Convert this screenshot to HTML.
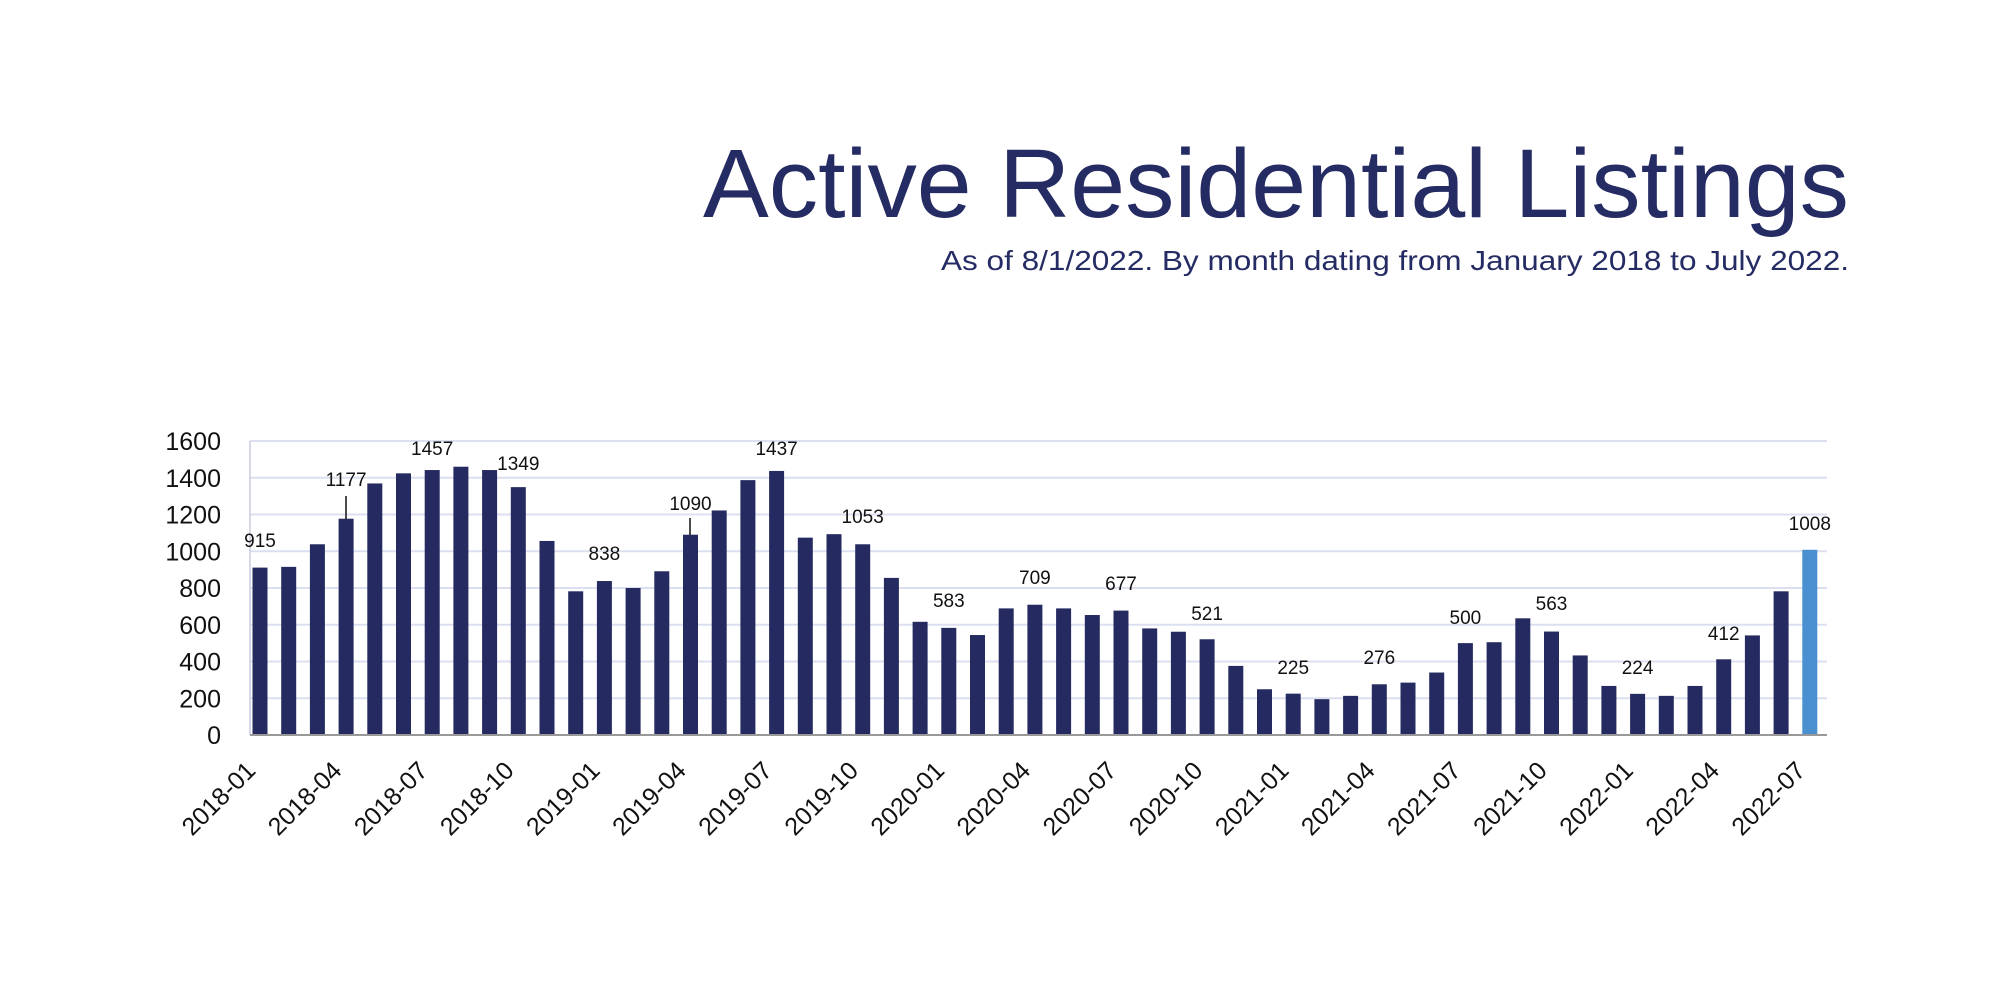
<!DOCTYPE html>
<html><head><meta charset="utf-8"><style>
html,body{margin:0;padding:0;background:#fff;}
svg{display:block;}
text{font-family:"Liberation Sans",sans-serif;}
</style></head><body>
<svg width="2000" height="1000" viewBox="0 0 2000 1000" xmlns="http://www.w3.org/2000/svg">
<rect width="2000" height="1000" fill="#fff"/>
<text x="703" y="217" font-size="97" fill="#252b63" textLength="1146" lengthAdjust="spacingAndGlyphs">Active Residential Listings</text>
<text x="941" y="270" font-size="28" fill="#252b63" textLength="908" lengthAdjust="spacingAndGlyphs">As of 8/1/2022. By month dating from January 2018 to July 2022.</text>
<g id="chart"></g>
</svg>
<script>
const vals=[911,915,1038,1177,1369,1424,1442,1460,1442,1349,1056,782,838,800,891,1090,1222,1387,1437,1074,1093,1038,855,616,583,544,689,709,689,653,677,580,562,521,376,249,225,195,213,276,285,340,500,505,635,563,433,267,224,213,267,412,542,782,1008];
const labels={0:915,3:1177,6:1457,9:1349,12:838,15:1090,18:1437,21:1053,24:583,27:709,30:677,33:521,36:225,39:276,42:500,45:563,48:224,51:412,54:1008};
const labY={0:540,3:479,6:448,9:463,12:553,15:503,18:448,21:516,24:600,27:577,30:583,33:613,36:667,39:657,42:617,45:603,48:667,51:633,54:523};
const ns="http://www.w3.org/2000/svg";const g=document.getElementById("chart");
function el(t,a,txt){const e=document.createElementNS(ns,t);for(const k in a)e.setAttribute(k,a[k]);if(txt!==undefined)e.textContent=txt;g.appendChild(e);return e;}
const base=735,sc=294/1600;
for(let v=0;v<=1600;v+=200){const y=base-v*sc;
 if(v>0)el("line",{x1:250,x2:1827,y1:y,y2:y,stroke:"#dcdff0","stroke-width":2});
 el("text",{x:221,y:y+9,"font-size":25,"text-anchor":"end",fill:"#111"},v);}
el("line",{x1:250,x2:250,y1:441,y2:735,stroke:"#c8cbe0","stroke-width":1.5});
for(let i=0;i<vals.length;i++){const cx=260+i*28.7;const h=vals[i]*sc;
 el("rect",{x:cx-7.5,y:base-h,width:15,height:h,fill:i==54?"#4a8fcf":"#252b60"});
 if(labels[i]!==undefined){el("text",{x:cx,y:labY[i]+7,"font-size":19,"text-anchor":"middle",fill:"#111"},labels[i]);}
 if(i%3==0){const lx=cx-3,ly=772;const t=el("text",{x:lx,y:ly,"font-size":25,"text-anchor":"end",fill:"#111",transform:`rotate(-45 ${lx} ${ly})`});
  const yr=2018+Math.floor(i/12),m=i%12+1;t.textContent=yr+"-"+(m<10?"0":"")+m;}}
el("line",{x1:346,x2:346,y1:496,y2:519,stroke:"#111","stroke-width":1.5});
el("line",{x1:690,x2:690,y1:518,y2:535,stroke:"#111","stroke-width":1.5});
el("line",{x1:250,x2:1827,y1:735,y2:735,stroke:"#999","stroke-width":2});
</script>
</body></html>
